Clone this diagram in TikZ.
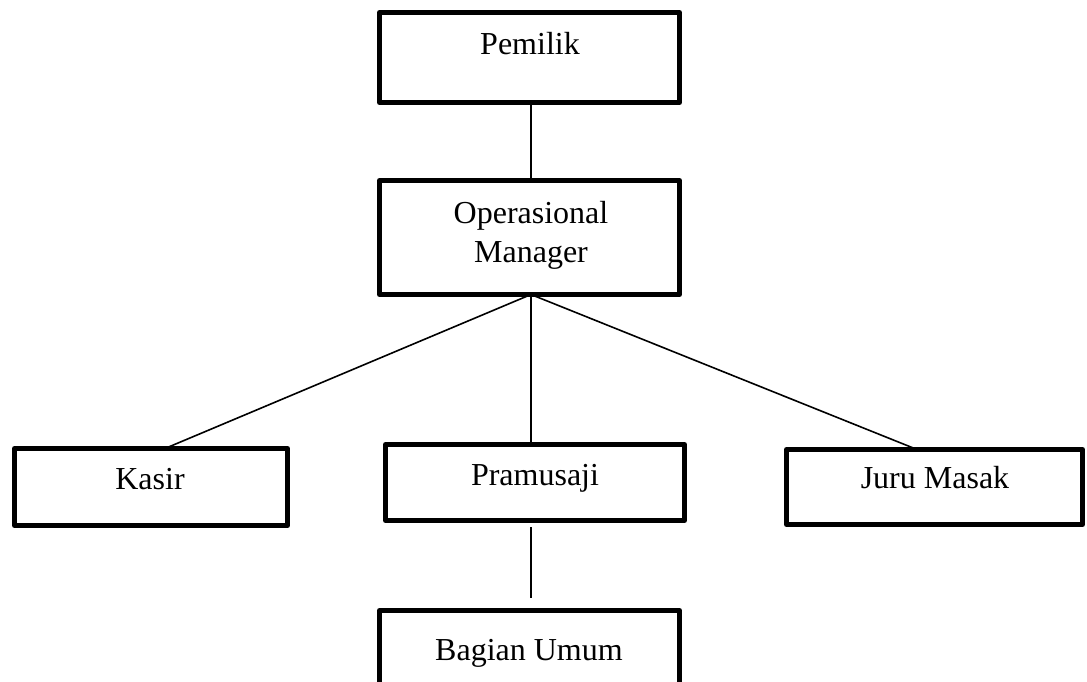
\documentclass[tikz,border=0pt]{standalone}
\usepackage{fontspec}
\setmainfont{Liberation Serif}
\begin{document}
\begin{tikzpicture}[x=1pt,y=-1pt,
  box/.style={draw=black, line width=5pt, line join=round, rectangle, inner sep=0pt, outer sep=0pt, fill=white},
  conn/.style={draw=black, line width=1.6pt},
  lbl/.style={inner sep=0pt, font=\fontsize{32}{39}\selectfont, anchor=base, align=center}]
\useasboundingbox (0,0) rectangle (1087,682);
\clip (0,0) rectangle (1087,682);
\fill[white] (0,0) rectangle (1087,682);
% boxes
\node[box, minimum width=300pt, minimum height=90pt] (pem) at (529.5,57.5) {};
\node[box, minimum width=300pt, minimum height=114pt] (om) at (529.5,237.5) {};
\node[box, minimum width=273pt, minimum height=77pt] (kas) at (151,487) {};
\node[box, minimum width=299pt, minimum height=76pt] (pra) at (535,482.5) {};
\node[box, minimum width=296pt, minimum height=75pt] (jur) at (934.5,487) {};
\node[box, minimum width=300pt, minimum height=100pt] (bag) at (529.5,660.5) {};
% labels
\node[lbl] (tpem) at (530,55) {Pemilik};
\node[lbl] (tom) at (531,262) {Operasional\\Manager};
\node[lbl] (tkas) at (150,489) {Kasir};
\node[lbl] (tpra) at (535,485) {Pramusaji};
\node[lbl] (tjur) at (935,488) {Juru Masak};
\node[lbl] (tbag) at (529,660) {Bagian Umum};
% connectors
\draw[conn] ([xshift=1.5pt]pem.south) -- ([xshift=1.5pt]om.north);
\draw[conn] ([xshift=1.5pt]om.south) -- ([xshift=14pt]kas.north);
\draw[conn] ([xshift=1.5pt]om.south) -- ([xshift=-17.5pt]jur.north);
\draw[conn] ([xshift=1.5pt]om.south) -- ([xshift=1.5pt]om.south |- pra.north);
\draw[conn, shorten <=6.5pt, shorten >=12.5pt] ([xshift=1.5pt]om.south |- pra.south) -- ([xshift=1.5pt]bag.north);
\end{tikzpicture}
\end{document}
